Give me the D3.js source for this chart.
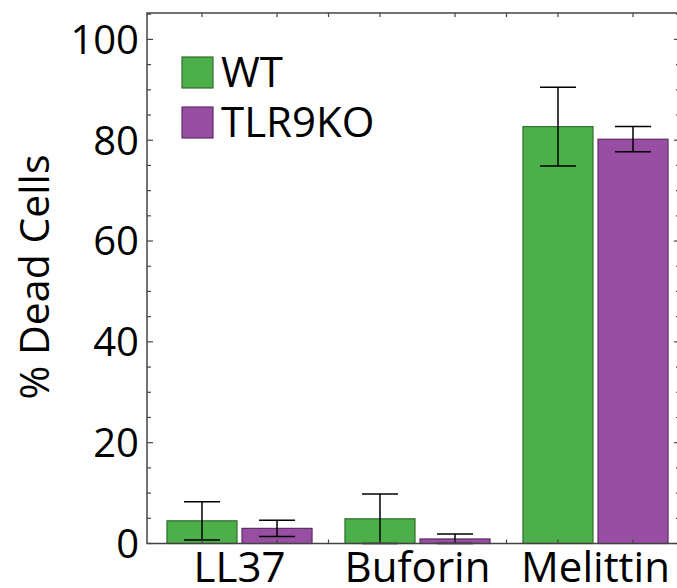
<!DOCTYPE html>
<meta charset="utf-8">
<style>
	body { margin: 0; background: #fff; }
	text { font-family: "Open Sans", sans-serif; fill: #000; }
</style>
<svg width="677" height="588"></svg>
<script src="https://cdn.jsdelivr.net/npm/d3@7"></script>
<script>
	var categories = ["LL37", "Buforin", "Melittin"];
	var groups = ["WT", "TLR9KO"];
	var wtValues = [4.5, 4.9, 82.7];
	var wtErrors = [3.8, 4.9, 7.8];
	var koValues = [3.0, 0.9, 80.2];
	var koErrors = [1.6, 1.0, 2.5];
	var yMajorTicks = [0, 20, 40, 60, 80, 100];

	var colors = { WT: "#4daf4a", TLR9KO: "#984ea3" },
		strokes = { WT: "#2f6e2d", TLR9KO: "#5e2c66" };

	var svg = d3.select("svg"),
		plotL = 147, plotR = 680, plotT = 13, plotB = 543.5;

	var data = categories.map(function(c, i){
		return { cat: c, vals: [
			{ g: "WT", v: wtValues[i], e: wtErrors[i] },
			{ g: "TLR9KO", v: koValues[i], e: koErrors[i] }
		]};
	});

	var x0 = d3.scaleBand().domain(categories).range([150.5, 684.5]).paddingInner(0.185).paddingOuter(0.0925);
	var x1 = d3.scaleBand().domain(groups).range([0, x0.bandwidth()]).paddingInner(1/15);
	var y = d3.scaleLinear().domain([0, (plotB - plotT) / ((plotB - 39.4) / 100)]).range([plotB, plotT]);

	// bars
	var g = svg.append("g");
	var grp = g.selectAll("g").data(data).enter().append("g")
		.attr("transform", function(d){ return "translate(" + x0(d.cat) + ",0)"; });

	grp.selectAll("rect").data(function(d){ return d.vals; }).enter().append("rect")
		.attr("x", function(d){ return x1(d.g); })
		.attr("y", function(d){ return y(d.v); })
		.attr("width", x1.bandwidth())
		.attr("height", function(d){ return y(0) - y(d.v); })
		.attr("fill", function(d){ return colors[d.g]; })
		.attr("stroke", function(d){ return strokes[d.g]; })
		.attr("stroke-width", 1.2);

	// error bars
	var cap = 18;
	var eb = grp.selectAll("g.err").data(function(d){ return d.vals; }).enter().append("g")
		.attr("class", "err")
		.attr("stroke", "#000").attr("stroke-width", 1.5);
	eb.append("line")
		.attr("x1", function(d){ return x1(d.g) + x1.bandwidth()/2; })
		.attr("x2", function(d){ return x1(d.g) + x1.bandwidth()/2; })
		.attr("y1", function(d){ return y(Math.max(0, d.v - d.e)); })
		.attr("y2", function(d){ return y(d.v + d.e); });
	eb.append("line")
		.attr("x1", function(d){ return x1(d.g) + x1.bandwidth()/2 - cap; })
		.attr("x2", function(d){ return x1(d.g) + x1.bandwidth()/2 + cap; })
		.attr("y1", function(d){ return y(d.v + d.e); })
		.attr("y2", function(d){ return y(d.v + d.e); });
	eb.append("line")
		.attr("x1", function(d){ return x1(d.g) + x1.bandwidth()/2 - cap; })
		.attr("x2", function(d){ return x1(d.g) + x1.bandwidth()/2 + cap; })
		.attr("y1", function(d){ return y(Math.max(0, d.v - d.e)); })
		.attr("y2", function(d){ return y(Math.max(0, d.v - d.e)); });

	// frame
	svg.append("rect").attr("x", plotL).attr("y", plotT).attr("width", plotR - plotL).attr("height", plotB - plotT)
		.attr("fill", "none").attr("stroke", "#444").attr("stroke-width", 1.5);

	// y ticks (inward, mirrored)
	var minorTicks = d3.range(0, 105.1, 5).filter(function(v){ return v % 20 !== 0; });
	var axisG = svg.append("g").attr("stroke", "#444").attr("stroke-width", 1.2);
	yMajorTicks.forEach(function(v){
		axisG.append("line").attr("x1", plotL).attr("x2", plotL + 6).attr("y1", y(v)).attr("y2", y(v));
		axisG.append("line").attr("x1", plotR).attr("x2", plotR - 6).attr("y1", y(v)).attr("y2", y(v));
	});
	minorTicks.forEach(function(v){
		axisG.append("line").attr("x1", plotL).attr("x2", plotL + 4).attr("y1", y(v)).attr("y2", y(v));
		axisG.append("line").attr("x1", plotR).attr("x2", plotR - 4).attr("y1", y(v)).attr("y2", y(v));
	});

	// x ticks at bar centres and between groups
	var xTicks = [];
	categories.forEach(function(c, i){
		groups.forEach(function(gr){ xTicks.push(x0(c) + x1(gr) + x1.bandwidth()/2); });
		if (i < categories.length - 1) xTicks.push((x0(c) + x0.bandwidth() + x0(categories[i+1])) / 2);
	});
	xTicks.forEach(function(t){
		axisG.append("line").attr("x1", t).attr("x2", t).attr("y1", plotB).attr("y2", plotB - 4);
		axisG.append("line").attr("x1", t).attr("x2", t).attr("y1", plotT).attr("y2", plotT + 4);
	});

	// tick labels
	svg.append("g").selectAll("text").data(yMajorTicks).enter().append("text")
		.attr("x", plotL - 8).attr("y", function(d){ return y(d); }).attr("dy", "0.36em")
		.attr("text-anchor", "end").style("font-size", "40px")
		.text(function(d){ return d; });

	svg.append("g").selectAll("text").data(categories).enter().append("text")
		.attr("x", function(d){ return x0(d) + x0.bandwidth()/2; }).attr("y", 582)
		.attr("text-anchor", "middle").style("font-size", "42px")
		.text(function(d){ return d; });

	svg.append("text").attr("transform", "translate(49,277) rotate(-90)")
		.attr("text-anchor", "middle").style("font-size", "41px").text("% Dead Cells");

	// legend
	var leg = svg.append("g").selectAll("g").data(groups).enter().append("g")
		.attr("transform", function(d, i){ return "translate(182," + (57 + i * 50) + ")"; });
	leg.append("rect").attr("width", 31).attr("height", 31)
		.attr("fill", function(d){ return colors[d]; })
		.attr("stroke", function(d){ return strokes[d]; }).attr("stroke-width", 1.2);
	leg.append("text").attr("x", 39).attr("y", 30).style("font-size", "42px").text(function(d){ return d; });
</script>
